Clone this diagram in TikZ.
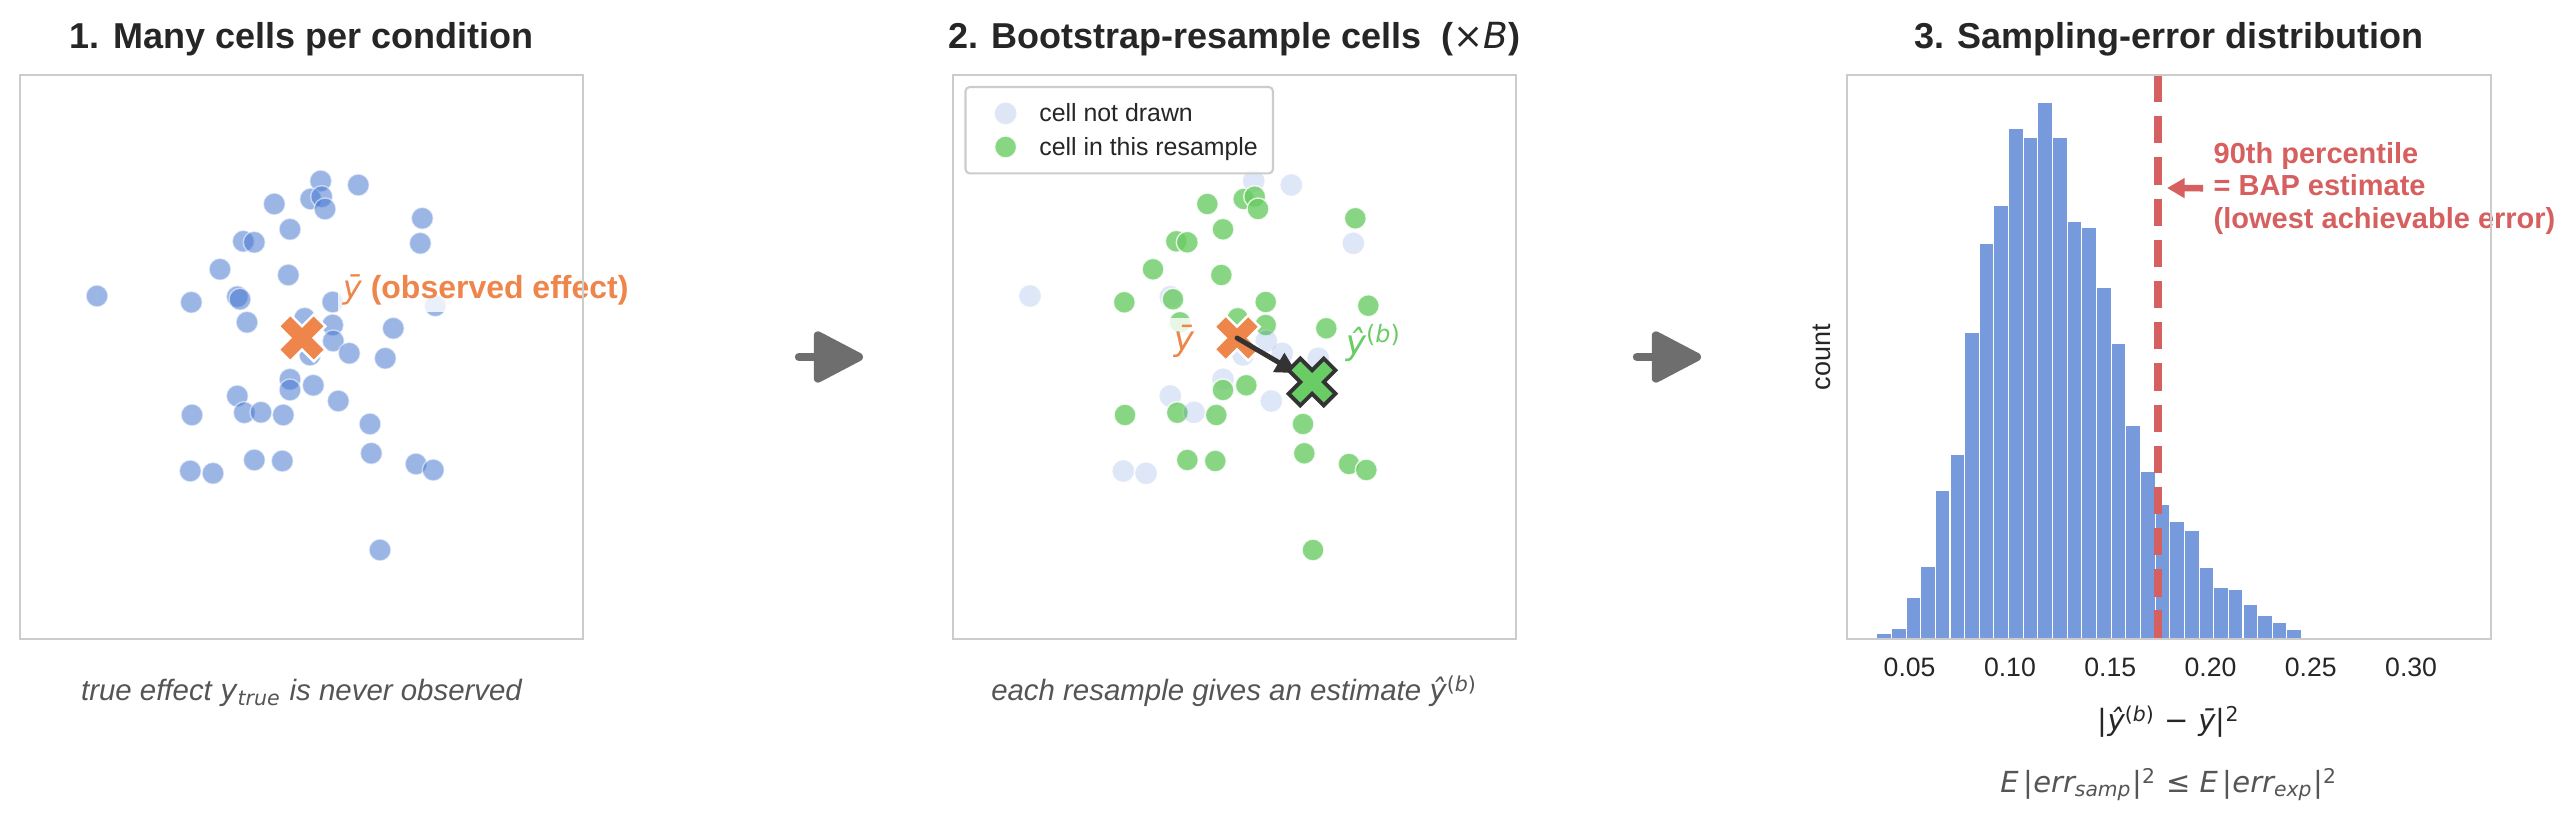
\documentclass[tikz,border=0pt]{standalone}
\usepackage{fontspec}
\setmainfont{Liberation Sans}
\newfontfamily\djv{DejaVu Sans}[ItalicFont={DejaVu Sans Oblique}]
\usetikzlibrary{arrows.meta}

\definecolor{cblue}{HTML}{4878D0}
\definecolor{cbar}{HTML}{769ADC}
\definecolor{cgreen}{HTML}{6ACC64}
\definecolor{corange}{HTML}{EE854A}
\definecolor{cred}{HTML}{D65F5F}
\definecolor{cdark}{HTML}{333333}
\definecolor{ctext}{HTML}{262626}
\definecolor{cgray}{HTML}{555555}
\definecolor{cframe}{HTML}{CCCCCC}
\definecolor{carrow}{HTML}{6E6E6E}

\newcommand{\mvar}[1]{{\djv\mdseries\itshape #1}}
\newcommand{\yhatb}{{\djv\upshape\mvar{ŷ}\textsuperscript{(\mvar{b})}}}
\newcommand{\xmarker}[3]{\path[#3, shift={(#1)}, rotate=45, scale=#2] (-1,-3) -- (1,-3) -- (1,-1) -- (3,-1) -- (3,1) -- (1,1) -- (1,3) -- (-1,3) -- (-1,1) -- (-3,1) -- (-3,-1) -- (-1,-1) -- cycle;}
\newcommand{\cellpts}{320.7/181/undrawn, 358.3/185/undrawn, 310.7/199/drawn, 321.7/196.7/drawn, 325/209/drawn, 274.3/204/drawn, 290/229.3/drawn, 422.3/218.3/drawn, 420.3/243.3/undrawn, 243.3/241.3/drawn, 254.3/242.3/drawn, 220/269.3/drawn, 288.3/275/drawn, 191.3/302.3/drawn, 237.3/296.7/undrawn, 240/299.3/drawn, 247/322.3/drawn, 332.7/302/drawn, 304.7/318.3/drawn, 332.7/325/drawn, 333.3/341/undrawn, 349.3/353.3/undrawn, 393.3/328.3/drawn, 385.3/358.3/undrawn, 310/355/undrawn, 290/379.3/undrawn, 290/390/drawn, 313.3/385.3/drawn, 338.3/401/undrawn, 237.3/396/undrawn, 244.3/412.7/drawn, 261/412.3/undrawn, 283.3/415/drawn, 192/415/drawn, 370/424/drawn, 371.3/453.3/drawn, 254.3/460/drawn, 282.3/461/drawn, 190.3/471/undrawn, 213/473.3/undrawn, 416/464/drawn, 433.3/470/drawn, 435.3/305.7/drawn, 97/296/undrawn, 380/550/drawn}

\tikzset{
  axframe/.style={draw=cframe, line width=0.6pt},
  cell/.style={fill=cblue, draw=white, line width=0.4pt, opacity=0.55},
  drawn/.style={fill=cgreen, draw=white, line width=0.4pt, opacity=0.8},
  undrawn/.style={fill=cblue, draw=white, line width=0.4pt, opacity=0.18},
  histbar/.style={fill=cbar, draw=white, line width=0.3pt},
  paneltitle/.style={anchor=base, inner sep=0pt, text=ctext, font=\fontsize{10.24}{12}\selectfont\bfseries},
  capt/.style={anchor=base, inner sep=0pt, text=cgray, font=\fontsize{8.37}{10}\selectfont\itshape},
  ticklab/.style={anchor=base, inner sep=0pt, text=ctext, font=\fontsize{7.57}{9}\selectfont},
  legtext/.style={anchor=base west, inner sep=0pt, text=ctext, font=\fontsize{7.08}{8.5}\selectfont},
  halo/.style={fill=white, fill opacity=0.8, text opacity=1, inner xsep=1.5pt, inner ysep=2pt},
  gaparrow/.style={draw=carrow, line width=2.4pt, line cap=round, -{Triangle[length=15.5pt,width=15.5pt,round]}},
  bootarrow/.style={draw=cdark, line width=1.4pt, line cap=round, -{Triangle[length=6pt,width=6pt]}},
  baparrow/.style={draw=cred, line width=1.9pt, -{Triangle[length=5pt,width=5.4pt]}},
  p90line/.style={draw=cred, line width=2.2pt, dash pattern=on 7.77pt off 3.95pt}
}

\begin{document}
\begin{tikzpicture}[x=0.1mm, y=-0.1mm]
\useasboundingbox (0,0) rectangle (2576,823);

\node[paneltitle] (t1) at (301.5,48.5) {1. Many cells per condition};
\node[paneltitle] (t2) at (1234.5,48.5) {2. Bootstrap-resample cells\ \ ({\djv\mdseries×}\mvar{B})};
\node[paneltitle] (t3) at (2169,48.5) {3. Sampling-error distribution};

\foreach \x/\y/\f in \cellpts
  \path[cell] (\x,\y) circle[radius=11];
\coordinate (ybar1) at (302,338);
\xmarker{ybar1}{8.3}{fill=corange, draw=white, line width=0.7pt}
\node[halo, anchor=west, text=corange, font=\fontsize{9.1}{11}\selectfont\bfseries] (obs1) at (337,290) {\mvar{ȳ} (observed effect)};
\draw[axframe] (20,75) rectangle (583,639);
\node[capt] (cap1) at (301.5,701) {true effect \mvar{y}\textsubscript{\mvar{true}} is never observed};

\coordinate (g1s) at (799,357);
\coordinate (g1e) at (863,357);
\draw[gaparrow] (g1s) -- (g1e);

\foreach \x/\y/\f in \cellpts
  \path[\f] ({\x+933},\y) circle[radius=11];
\coordinate (ybar2) at (1237,338);
\coordinate (yhat2) at (1312,382);
\xmarker{ybar2}{8}{fill=corange, draw=white, line width=0.7pt}
\draw[bootarrow, shorten >=5pt] (ybar2) -- (yhat2);
\xmarker{yhat2}{8.3}{fill=cgreen, draw=cdark, line width=1.1pt}
\node[halo, text=corange, font=\fontsize{9.7}{11}\selectfont] (ybarlab) at (1184,341) {\mvar{ȳ}};
\node[halo, anchor=west, text=cgreen, font=\fontsize{9.7}{11}\selectfont] (yhatlab) at (1340,343) {\yhatb};
\draw[axframe, fill=white, fill opacity=0.8, rounded corners=1.2pt] (965.5,87) rectangle (1273,173.4);
\path[undrawn] (1005.6,113.4) circle[radius=11];
\path[drawn] (1005.6,147) circle[radius=11];
\node[legtext] (leg1) at (1038.6,122) {cell not drawn};
\node[legtext] (leg2) at (1038.6,155.6) {cell in this resample};
\draw[axframe] (953,75) rectangle (1516,639);
\node[capt] (cap2) at (1234.5,701) {each resample gives an estimate \yhatb};

\coordinate (g2s) at (1637,357);
\coordinate (g2e) at (1701,357);
\draw[gaparrow] (g2s) -- (g2e);

\foreach \t [count=\k from 0] in {633.8,628.6,597.3,566,490,454,332,243.3,205.3,128.3,137.3,102.7,137.3,221.3,227,287.3,343.3,425,471,504,521,530,567,587,589,604,615,622.8,629.6,637,637.5,637.5,639,637.5}
  \path[histbar] ({1876.7+\k*14.65},639) rectangle ({1876.7+(\k+1)*14.65},\t);
\coordinate (p90top) at (2158,75);
\coordinate (p90bot) at (2158,639);
\draw[p90line] (p90top) -- (p90bot);
\node[anchor=north west, align=left, inner sep=0pt, text=cred, font=\fontsize{8.25}{9.25}\selectfont\bfseries] (bap) at (2213,141.5) {90th percentile\\= BAP estimate\\(lowest achievable error)};
\coordinate (p90) at (2158,188);
\draw[baparrow, shorten <=2.8pt, shorten >=2.56pt] (bap.west) -- (p90);
\draw[axframe] (1847,75) rectangle (2491,639);
\foreach \v [count=\k from 0] in {0.05,0.10,0.15,0.20,0.25,0.30}
  \node[ticklab] (tk\k) at ({1909.6+\k*100.3},677) {\v};
\node[rotate=90, inner sep=0pt, text=ctext, font=\fontsize{7.68}{9}\selectfont] (countlab) at (1822,357) {count};
\node[anchor=base, inner sep=0pt, text=ctext, font=\fontsize{8.3}{10}\selectfont\djv] (xlab) at (2169,731) {|\mvar{ŷ}\textsuperscript{(\mvar{b})} − \mvar{ȳ}|\textsuperscript{2}};
\node[anchor=base, inner sep=0pt, text=cgray, font=\fontsize{8.25}{10}\selectfont\djv] (ineq) at (2169,793) {\mvar{E}\,|\mvar{err}\textsubscript{\mvar{samp}}|\textsuperscript{2} ≤ \mvar{E}\,|\mvar{err}\textsubscript{\mvar{exp}}|\textsuperscript{2}};
\end{tikzpicture}
\end{document}
